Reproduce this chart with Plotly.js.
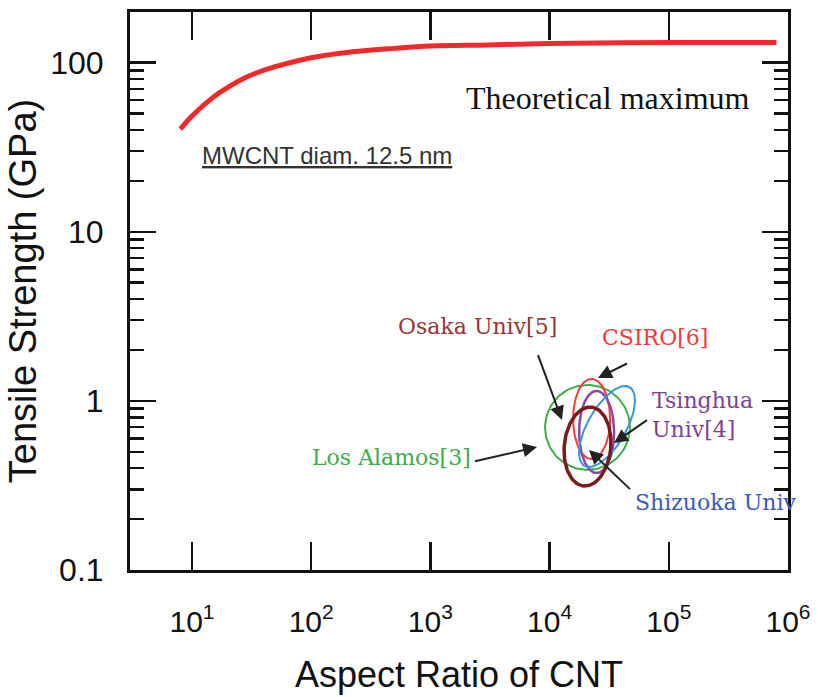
<!DOCTYPE html>
<html><head><meta charset="utf-8">
<script src="https://cdn.plot.ly/plotly-3.0.1.min.js"></script>
<style>html,body{margin:0;padding:0;background:#fff}#chart{width:818px;height:697px}</style>
</head><body><div id="chart"></div>
<script>
// ---- data ----
// theoretical maximum strength curve (MWCNT diam. 12.5 nm)
const theoryAspect   = [8, 10, 15, 20, 30, 50, 100, 200, 500, 1000, 3000, 1e4, 1e5, 8e5];
const theoryStrength = [40.5, 48.4, 62.4, 71.5, 83.4, 94.7, 107, 115, 121.6, 125.6, 127.5, 130, 131.5, 131.5];

// measured CNT yarn ranges (centre + half-spreads in decades along two conjugate axes)
const groupNames    = ['Los Alamos[3]', 'CSIRO[6]', 'Tsinghua Univ[4]', 'Shizuoka Univ', 'Osaka Univ[5]'];
const groupAspect   = [2.08e4, 2.25e4, 2.48e4, 3.03e4, 2.08e4];
const groupStrength = [0.697, 0.782, 0.655, 0.706, 0.537];
const spreadA_ar    = [0.356, 0.155, 0.147, 0.139, 0.194];
const spreadA_ts    = [0, 0, 0, -0.056, -0.014];
const spreadB_ar    = [0, 0, 0, 0.189, 0.033];
const spreadB_ts    = [0.251, 0.237, 0.243, 0.233, 0.233];

const xTickVals = [10, 100, 1000, 1e4, 1e5, 1e6];
const xTickText = ['10<sup>1</sup>', '10<sup>2</sup>', '10<sup>3</sup>', '10<sup>4</sup>', '10<sup>5</sup>', '10<sup>6</sup>'];
const yTickVals = [0.1, 1, 10, 100];
const yTickText = ['0.1', '1', '10', '100'];

// ---- styles ----
const ellColors = ['#3fae49', '#f23c3c', '#8e44a8', '#3597d6', '#7a1c1c'];
const ellWidths = [2, 2, 2.5, 2, 3.5];

const traces = [];
traces.push({
  x: theoryAspect, y: theoryStrength, type: 'scatter', mode: 'lines',
  line: {color: '#f02a2a', width: 5, shape: 'spline'}, hoverinfo: 'skip'
});
for (let i = 0; i < groupNames.length; i++) {
  const cx = Math.log10(groupAspect[i]), cy = Math.log10(groupStrength[i]);
  const xs = [], ys = [];
  for (let k = 0; k <= 120; k++) {
    const t = 2 * Math.PI * k / 120;
    xs.push(Math.pow(10, cx + spreadA_ar[i] * Math.cos(t) + spreadB_ar[i] * Math.sin(t)));
    ys.push(Math.pow(10, cy + spreadA_ts[i] * Math.cos(t) + spreadB_ts[i] * Math.sin(t)));
  }
  traces.push({x: xs, y: ys, type: 'scatter', mode: 'lines', name: groupNames[i],
    line: {color: ellColors[i], width: ellWidths[i]}, hoverinfo: 'skip'});
}

// reference-pixel helpers for annotation placement
const L = 130, R = 788, T = 12, B = 570;
const px = p => (p - L) / (R - L);
const py = p => (B - p) / (B - T);

const slab = 'DejaVu Serif';
function label(text, x, y, color, xanchor) {
  return {text: text, xref: 'paper', yref: 'paper', x: px(x), y: py(y), showarrow: false,
    xanchor: xanchor || 'center', yanchor: 'middle', align: 'left',
    font: {family: slab, size: 22, color: color}};
}
function arrow(x0, y0, x1, y1) {
  return {text: ' ', xref: 'paper', yref: 'paper', axref: 'pixel', ayref: 'pixel',
    x: px(x1), y: py(y1), ax: x0 - x1, ay: y0 - y1, showarrow: true,
    arrowhead: 2, arrowsize: 1.4, arrowwidth: 2, arrowcolor: '#222'};
}

const annotations = [
  {text: 'Theoretical maximum', xref: 'paper', yref: 'paper', x: px(608), y: py(98),
   showarrow: false, xanchor: 'center', yanchor: 'middle',
   font: {family: 'Liberation Serif', size: 32, color: '#111'}},
  {text: '<u>MWCNT diam. 12.5 nm</u>', xref: 'paper', yref: 'paper', x: px(327), y: py(155),
   showarrow: false, xanchor: 'center', yanchor: 'middle',
   font: {family: 'Liberation Sans', size: 24, color: '#333'}},
  label('Osaka Univ[5]', 477, 327, '#953735'),
  label('CSIRO[6]', 655, 337, '#f03c3c'),
  label('Tsinghua<br>Univ[4]', 650, 415, '#7f3f98', 'left'),
  label('Shizuoka Univ', 715, 502, '#3a5bb5'),
  label('Los Alamos[3]', 391, 457, '#3cac4c'),
  arrow(535, 347, 562, 420),
  arrow(630, 362, 598, 378),
  arrow(650, 418, 614, 443),
  arrow(633, 492, 589, 450),
  arrow(472, 462, 537, 447)
];

const layout = {
  width: 818, height: 697,
  margin: {l: L, r: 818 - R, t: T, b: 697 - B, pad: 0},
  paper_bgcolor: '#fff', plot_bgcolor: '#fff',
  showlegend: false,
  font: {family: 'Liberation Sans, Arial, sans-serif', color: '#111'},
  xaxis: {
    type: 'log', range: [0.48, 6], tickvals: xTickVals, ticktext: xTickText,
    ticks: 'inside', ticklen: 28, tickwidth: 2.5, tickcolor: '#111',
    showline: true, linewidth: 3, linecolor: '#111', mirror: 'ticks',
    showgrid: false, zeroline: false,
    tickfont: {size: 30, color: '#111'}, ticklabelstandoff: 23,
    title: {text: 'Aspect Ratio of CNT', font: {size: 36, color: '#111'}, standoff: 25}
  },
  yaxis: {
    type: 'log', range: [-1, 2.3], tickvals: yTickVals, ticktext: yTickText,
    ticks: 'inside', ticklen: 26, tickwidth: 2.5, tickcolor: '#111',
    minor: {ticks: 'inside', ticklen: 14, tickwidth: 2.5, tickcolor: '#111', dtick: 'D1', showgrid: false},
    showline: true, linewidth: 3, linecolor: '#111', mirror: 'ticks',
    showgrid: false, zeroline: false,
    tickfont: {size: 32, color: '#111'}, ticklabelstandoff: 17,
    title: {text: 'Tensile Strength (GPa)', font: {size: 38, color: '#111'}, standoff: 2}
  },
  annotations: annotations
};

Plotly.newPlot('chart', traces, layout, {displayModeBar: false, staticPlot: true});
</script>
</body></html>
